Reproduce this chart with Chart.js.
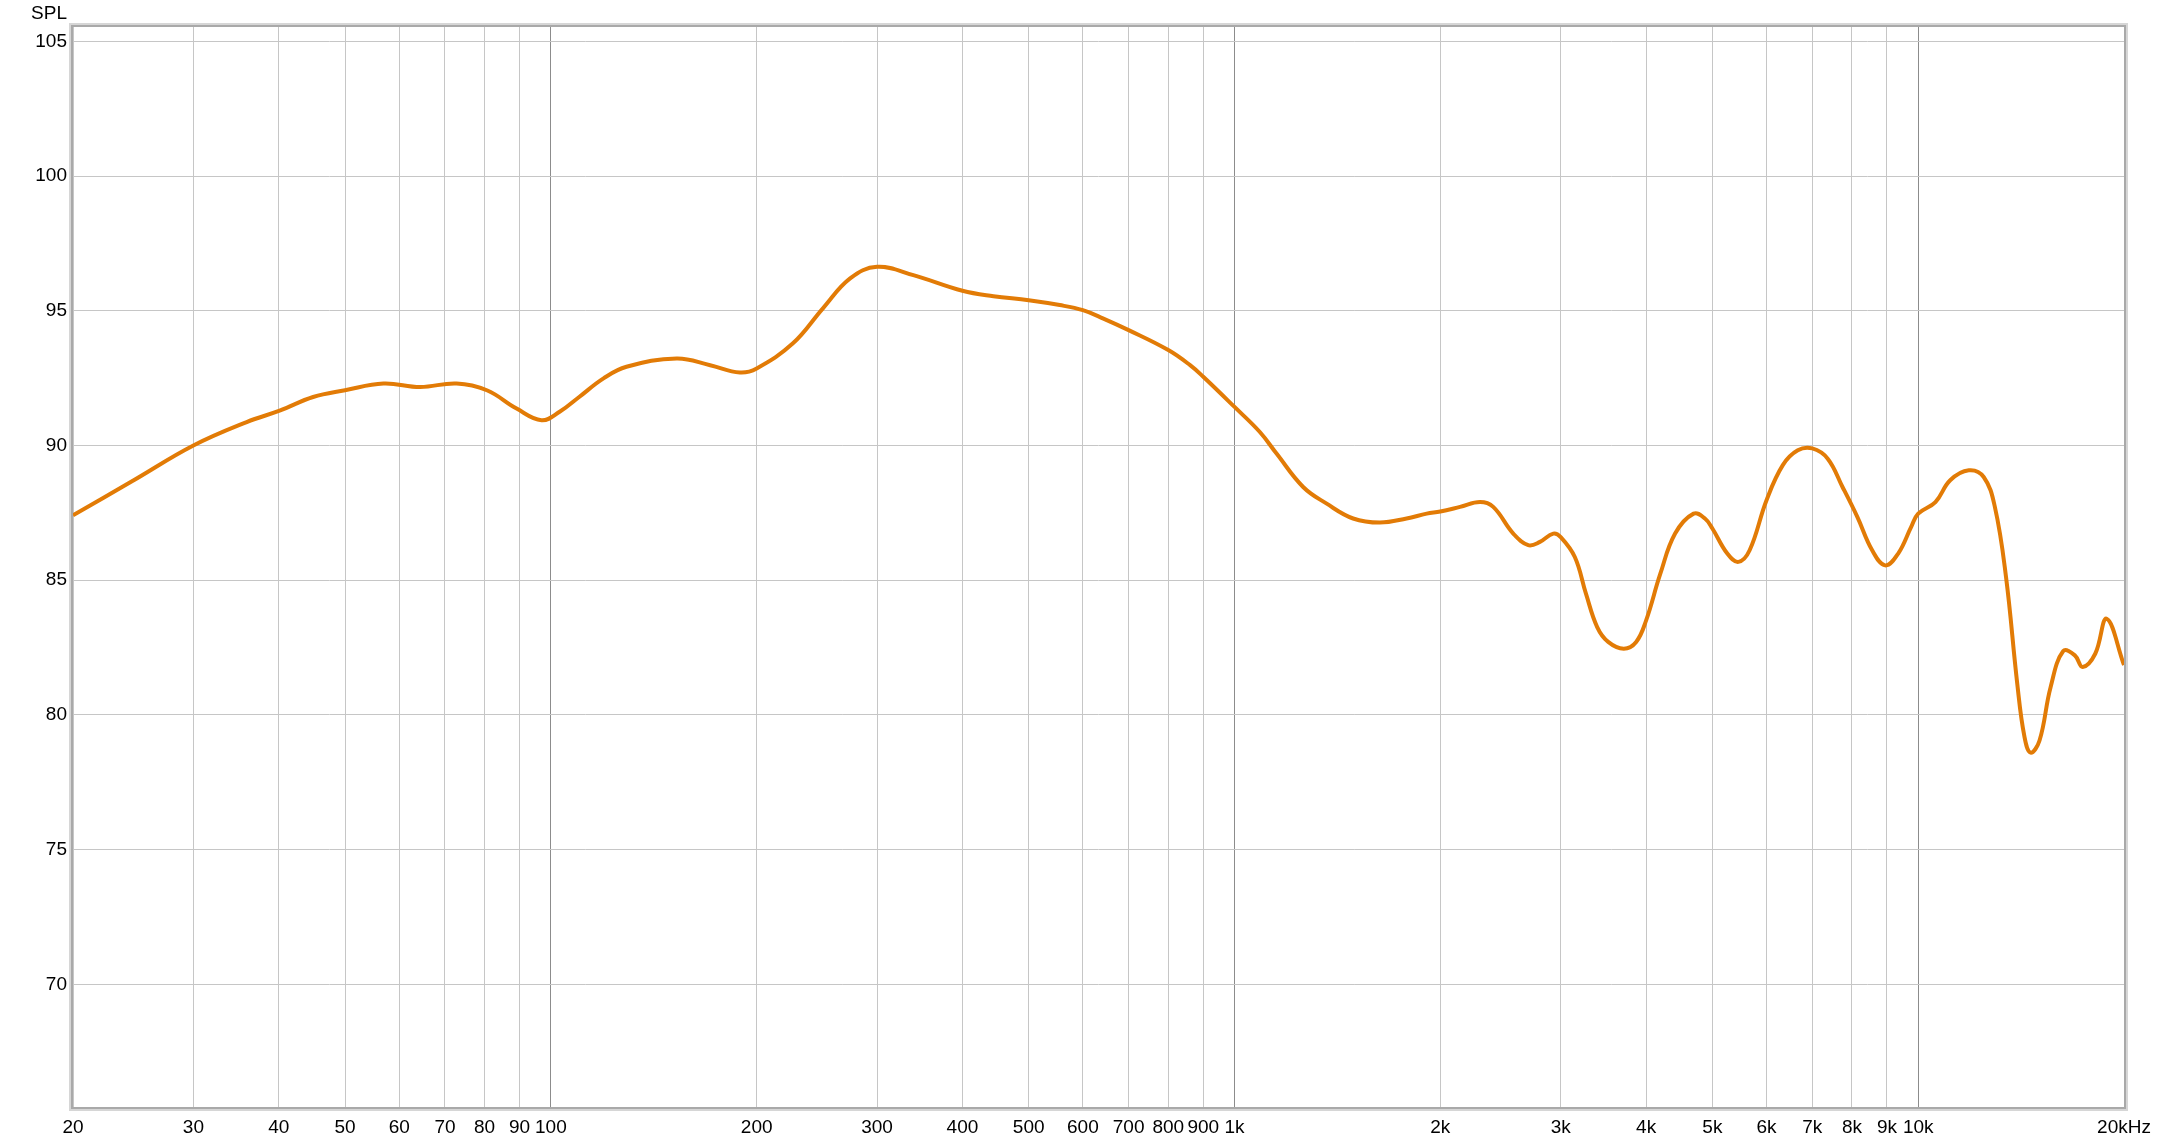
<!DOCTYPE html>
<html>

<head>
  <meta charset="utf-8">
  <title>SPL</title>
  <script src="https://cdn.jsdelivr.net/npm/chart.js"></script>
  <style>
    body { margin: 0; background: #fff; }
    canvas { display: block; }
  </style>
  <script type="text/javascript">
    // frequency response
    var freqs = [20, 24.5, 30, 35.9, 40.2, 44.9, 50, 56.9, 64.4, 72.8, 80.6, 89.1, 96.9, 103, 110,
      119.4, 129, 152.8, 171, 189, 200, 226, 250, 274, 300, 339, 400, 444, 500, 555, 600, 643, 700,
      800, 861, 900, 1000, 1089, 1152, 1260, 1364, 1491, 1632, 1785, 1910, 2000, 2137, 2286, 2390,
      2557, 2689, 2797, 2926, 3000, 3146, 3266, 3392, 3520, 3710, 3868, 4000, 4196, 4410, 4694, 4876,
      5000, 5257, 5458, 5668, 6000, 6338, 6666, 7000, 7373, 7750, 8146, 8564, 8948, 9348, 9767, 10000,
      10598, 11138, 11858, 12468, 12946, 13442, 13960, 14300, 14600, 15048, 15619, 16300, 16949, 17400,
      18153, 18870, 20000];
    var spl = [87.41, 88.7, 90.0, 90.87, 91.3, 91.8, 92.05, 92.3, 92.17, 92.3, 92.05, 91.37, 90.94, 91.25, 91.8,
      92.49, 92.92, 93.23, 92.98, 92.71, 92.86, 93.79, 95.09, 96.2, 96.63, 96.32, 95.74, 95.54, 95.39, 95.21, 95.02, 94.71, 94.28,
      93.54, 92.98, 92.55, 91.43, 90.5, 89.7, 88.46, 87.84, 87.29, 87.14, 87.29, 87.47, 87.55, 87.72, 87.9, 87.72,
      86.73, 86.3, 86.42, 86.73, 86.6, 85.86, 84.5, 83.26, 82.71, 82.46, 82.71, 83.51, 85.24, 86.73, 87.47, 87.29,
      86.92, 85.99, 85.68, 86.11, 87.97, 89.27, 89.82, 89.89, 89.51, 88.46, 87.35, 86.11, 85.55, 85.99, 86.98, 87.47,
      87.9, 88.71, 89.08, 88.83, 87.72, 85.12, 81.16, 79.2, 78.6, 79.05, 81.03, 82.37, 82.21, 81.78,
      82.27, 83.57, 81.85];

    var xTicks = [20, 30, 40, 50, 60, 70, 80, 90, 100, 200, 300, 400, 500, 600, 700, 800, 900,
      1000, 2000, 3000, 4000, 5000, 6000, 7000, 8000, 9000, 10000, 20000];
    var xLabels = ["20", "30", "40", "50", "60", "70", "80", "90", "100", "200", "300", "400", "500", "600", "700", "800", "900",
      "1k", "2k", "3k", "4k", "5k", "6k", "7k", "8k", "9k", "10k", "20kHz"];
    var yTicks = [70, 75, 80, 85, 90, 95, 100, 105];
    var decades = [100, 1000, 10000];

    var FONT = '"Liberation Sans", Arial, sans-serif';

    // frame round the plot + "SPL" caption
    var framePlugin = {
      id: 'frame',
      afterDraw: function (chart) {
        var a = chart.chartArea;
        var ctx = chart.ctx;
        ctx.save();
        ctx.lineWidth = 2;
        ctx.strokeStyle = '#d6d6d6';
        ctx.strokeRect(a.left - 3, a.top - 3, a.right - a.left + 6, a.bottom - a.top + 6);
        ctx.strokeStyle = '#a9a9a9';
        ctx.strokeRect(a.left - 1, a.top - 1, a.right - a.left + 2, a.bottom - a.top + 2);
        ctx.fillStyle = '#000';
        ctx.font = '19px ' + FONT;
        ctx.textAlign = 'right';
        ctx.textBaseline = 'alphabetic';
        ctx.fillText('SPL', 67, 19);
        ctx.restore();
      }
    };

    window.onload = function () {
      var points = [];
      for (var i = 0; i < freqs.length; i++) {
        points.push({ x: freqs[i], y: spl[i] });
      }

      new Chart(document.getElementById('chart'), {
        type: 'line',
        data: {
          datasets: [{
            data: points,
            borderColor: '#e27b06',
            borderWidth: 4,
            pointRadius: 0,
            tension: 0.4,
            fill: false
          }]
        },
        options: {
          responsive: false,
          animation: false,
          events: [],
          layout: { padding: { left: 0, right: 36, top: 27, bottom: 0 } },
          plugins: { legend: { display: false }, tooltip: { enabled: false } },
          scales: {
            x: {
              type: 'logarithmic',
              min: 20,
              max: 20000,
              afterBuildTicks: function (axis) {
                axis.ticks = xTicks.map(function (v) { return { value: v }; });
              },
              afterFit: function (axis) { axis.height = 34; },
              grid: {
                drawTicks: false,
                lineWidth: 1,
                color: function (c) {
                  return decades.indexOf(c.tick && c.tick.value) >= 0 ? '#8c8c8c' : '#c6c6c6';
                }
              },
              border: { display: false },
              ticks: {
                autoSkip: false,
                maxRotation: 0,
                padding: 9,
                color: '#000',
                font: { family: FONT, size: 19 },
                callback: function (value, index) { return xLabels[index]; }
              }
            },
            y: {
              min: 65.45,
              max: 105.53,
              afterBuildTicks: function (axis) {
                axis.ticks = yTicks.map(function (v) { return { value: v }; });
              },
              afterFit: function (axis) { axis.width = 73; },
              grid: { drawTicks: false, lineWidth: 1, color: '#c6c6c6' },
              border: { display: false },
              ticks: {
                padding: 6,
                color: '#000',
                font: { family: FONT, size: 19 },
                callback: function (value) { return String(value); }
              }
            }
          }
        },
        plugins: [framePlugin]
      });
    };
  </script>
</head>

<body>
  <canvas id="chart" width="2160" height="1141"></canvas>
</body>

</html>
